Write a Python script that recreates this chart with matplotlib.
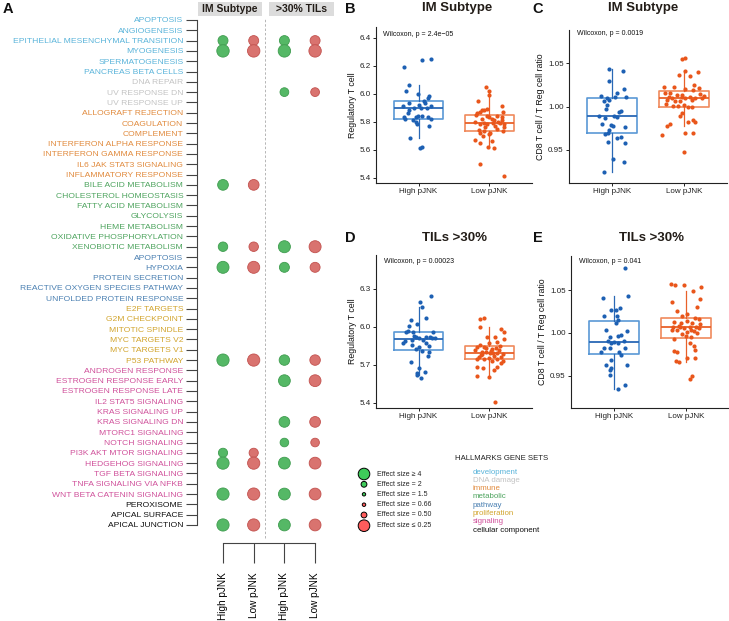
"""
Hallmark gene-set dot matrix (A) + Treg / CD8:Treg boxplots by pJNK (B-E).
"""
import numpy as np
import matplotlib.pyplot as plt
from matplotlib.patches import Rectangle

plt.rcParams['font.family'] = ['Liberation Sans', 'DejaVu Sans']
W, H = 729, 621

# ---------------- panel A data ----------------
categories = ["development", "DNA damage", "immune", "metabolic",
              "pathway", "proliferation", "signaling", "cellular component"]
category_colors = ["#5ab4da", "#c3c3c3", "#e18b3e", "#4ea45f",
                   "#4b80b2", "#d2a52e", "#d0519b", "#111111"]
gene_sets = [
    "APOPTOSIS", "ANGIOGENESIS", "EPITHELIAL MESENCHYMAL TRANSITION", "MYOGENESIS",
    "SPERMATOGENESIS", "PANCREAS BETA CELLS",
    "DNA REPAIR", "UV RESPONSE DN", "UV RESPONSE UP",
    "ALLOGRAFT REJECTION", "COAGULATION", "COMPLEMENT", "INTERFERON ALPHA RESPONSE",
    "INTERFERON GAMMA RESPONSE", "IL6 JAK STAT3 SIGNALING", "INFLAMMATORY RESPONSE",
    "BILE ACID METABOLISM", "CHOLESTEROL HOMEOSTASIS", "FATTY ACID METABOLISM",
    "GLYCOLYSIS", "HEME METABOLISM", "OXIDATIVE PHOSPHORYLATION", "XENOBIOTIC METABOLISM",
    "APOPTOSIS", "HYPOXIA", "PROTEIN SECRETION", "REACTIVE OXYGEN SPECIES PATHWAY",
    "UNFOLDED PROTEIN RESPONSE",
    "E2F TARGETS", "G2M CHECKPOINT", "MITOTIC SPINDLE", "MYC TARGETS V2", "MYC TARGETS V1",
    "P53 PATHWAY",
    "ANDROGEN RESPONSE", "ESTROGEN RESPONSE EARLY", "ESTROGEN RESPONSE LATE",
    "IL2 STAT5 SIGNALING", "KRAS SIGNALING UP", "KRAS SIGNALING DN", "MTORC1 SIGNALING",
    "NOTCH SIGNALING", "PI3K AKT MTOR SIGNALING", "HEDGEHOG SIGNALING", "TGF BETA SIGNALING",
    "TNFA SIGNALING VIA NFKB", "WNT BETA CATENIN SIGNALING",
    "PEROXISOME", "APICAL SURFACE", "APICAL JUNCTION",
]
gene_set_category = [0] * 6 + [1] * 3 + [2] * 7 + [3] * 7 + [4] * 5 + [5] * 6 + [6] * 13 + [7] * 3

n = np.nan
# effect size of High pJNK (Low pJNK is the reciprocal); nan = not significant
im_effect = [n, n, 3.3, 4.4, n, n,
             n, n, n,
             n, n, n, n, n, n, n,
             3.6, n, n, n, n, n, 3.1,
             n, 4.2, n, n, n,
             n, n, n, n, n, 4.3,
             n, n, n, n, n, n, n, n, 3.0, 4.3, n, n, 4.3,
             n, n, 4.3]
til_effect = [n, n, 3.3, 4.4, n, n,
              n, 2.85, n,
              n, n, n, n, n, n, n,
              n, n, n, n, n, n, 4.2,
              n, 3.3, n, n, n,
              n, n, n, n, n, 3.5,
              n, 4.1, n, n, n, 3.6, n, 2.8, n, 4.1, n, n, 4.1,
              n, n, 4.1]
column_labels = ["High pJNK", "Low pJNK", "High pJNK", "Low pJNK"]
comparisons = ["IM Subtype", ">30% TILs"]
legend_effects = [4, 2, 1.5, 0.66, 0.50, 0.25]
legend_labels = ["Effect size \u2265 4", "Effect size = 2", "Effect size = 1.5",
                 "Effect size = 0.66", "Effect size = 0.50", "Effect size \u2264 0.25"]

# ---------------- panels B-E data ----------------
b_high = [6.25, 6.24, 6.19, 6.06, 6.02, 6.00, 5.98, 5.97, 5.95, 5.93, 5.93, 5.92, 5.91, 5.91,
          5.90, 5.90, 5.90, 5.88, 5.86, 5.84, 5.84, 5.83, 5.83, 5.83, 5.82, 5.82, 5.81, 5.80,
          5.78, 5.77, 5.68, 5.62, 5.61]
b_high_dx = [0.18, 0.05, -0.20, -0.13, -0.17, -0.01, 0.15, 0.13, 0.08, -0.13, 0.09, 0.01, 0.18,
             -0.22, -0.06, 0.04, 0.12, -0.13, -0.15, -0.01, 0.05, -0.21, -0.04, 0.14, 0.17,
             -0.19, -0.08, -0.04, -0.02, 0.15, -0.12, 0.05, 0.02]
b_low = [6.05, 6.02, 5.99, 5.95, 5.91, 5.89, 5.88, 5.88, 5.87, 5.87, 5.86, 5.85, 5.84, 5.84,
         5.83, 5.83, 5.82, 5.82, 5.81, 5.81, 5.80, 5.80, 5.79, 5.79, 5.79, 5.78, 5.78, 5.78,
         5.77, 5.76, 5.76, 5.75, 5.74, 5.73, 5.73, 5.72, 5.72, 5.71, 5.70, 5.67, 5.66, 5.65,
         5.62, 5.61, 5.50, 5.41]
b_low_dx = [-0.05, 0.00, -0.01, -0.16, 0.18, -0.03, -0.10, -0.07, -0.14, 0.19, -0.17, -0.19,
            -0.03, 0.11, 0.00, 0.18, -0.10, 0.04, 0.18, 0.07, -0.20, 0.12, 0.15, -0.08, 0.05,
            -0.03, 0.20, -0.14, 0.08, 0.20, -0.06, 0.11, -0.15, -0.08, 0.19, -0.13, 0.01,
            -0.01, -0.09, -0.20, 0.04, -0.13, -0.02, 0.07, -0.14, 0.20]

c_high = [1.0427, 1.0408, 1.0296, 1.0204, 1.0154, 1.0115, 1.0096, 1.0077, 1.0104, 1.0058,
          0.9970, 0.9946, 0.9935, 1.0019, 0.9888, 0.9865, 0.9877, 0.9800, 0.9788, 0.9780,
          0.9730, 0.9760, 0.9685, 0.9700, 0.9642, 0.9596, 0.9577, 0.9400, 0.9358, 0.9250,
          0.9650, 0.9890, 1.0120]
c_high_dx = [-0.04, 0.15, -0.04, 0.17, 0.07, 0.04, -0.07, -0.05, 0.19, -0.11, -0.09, 0.12,
             0.10, -0.07, -0.18, -0.10, 0.07, -0.14, -0.01, 0.01, -0.04, 0.18, -0.10, -0.06,
             0.07, -0.06, 0.18, 0.01, 0.16, -0.11, 0.12, 0.02, -0.15]
c_low = [1.0558, 1.0546, 1.0404, 1.0392, 1.0362, 1.0346, 1.0250, 1.0223, 1.0223, 1.0212,
         1.0200, 1.0192, 1.0154, 1.0135, 1.0115, 1.0115, 1.0096, 1.0096, 1.0096, 1.0077,
         1.0077, 1.0069, 1.0058, 1.0031, 1.0019, 1.0008, 1.0002, 1.0000, 0.9995, 0.9930,
         0.9885, 0.9846, 0.9827, 0.9819, 0.9800, 0.9777, 0.9700, 0.9700, 0.9677, 0.9473,
         1.0100, 1.0110, 1.0120, 1.0130, 1.0140, 1.0160]
c_low_dx = [0.01, -0.03, 0.01, 0.19, -0.07, 0.08, 0.14, -0.28, -0.14, 0.21, 0.02, 0.12, -0.19,
            -0.09, -0.02, 0.08, -0.16, 0.02, 0.16, -0.23, 0.11, -0.12, -0.05, -0.25, 0.00,
            -0.15, -0.08, 0.06, 0.11, -0.02, -0.05, 0.12, 0.16, 0.05, -0.20, -0.23, 0.01,
            0.12, -0.31, 0.00, 0.25, -0.21, 0.28, -0.02, 0.23, -0.26]

d_high = [6.241, 6.194, 6.155, 6.071, 6.052, 6.021, 6.005, 5.966, 5.960, 5.927, 5.916, 5.921,
          5.913, 5.908, 5.895, 5.890, 5.895, 5.869, 5.869, 5.856, 5.843, 5.850, 5.822, 5.811,
          5.800, 5.769, 5.724, 5.675, 5.633, 5.617, 5.646, 5.598, 5.955, 5.920, 5.910, 5.960]
d_high_dx = [0.17, 0.02, 0.05, 0.11, -0.10, -0.02, -0.13, -0.15, -0.18, -0.06, 0.11, 0.16,
             0.23, 0.00, 0.06, -0.19, -0.09, -0.22, 0.10, -0.09, 0.00, 0.15, -0.03, 0.05,
             0.15, 0.13, -0.10, 0.00, -0.02, -0.02, 0.09, 0.04, 0.20, -0.04, 0.19, -0.08]
d_low = [6.070, 6.058, 6.000, 5.984, 5.958, 5.921, 5.916, 5.906, 5.882, 5.869, 5.856, 5.848,
         5.843, 5.822, 5.816, 5.803, 5.785, 5.790, 5.790, 5.785, 5.769, 5.759, 5.756, 5.750,
         5.743, 5.732, 5.732, 5.717, 5.685, 5.680, 5.672, 5.659, 5.614, 5.606, 5.404, 5.800,
         5.810, 5.820, 5.830, 5.835, 5.840, 5.790, 5.775, 5.745, 5.765]
d_low_dx = [-0.08, -0.14, -0.13, 0.16, 0.20, 0.08, -0.03, 0.21, 0.10, -0.01, -0.14, 0.15,
            -0.08, 0.04, -0.20, -0.05, 0.19, 0.01, 0.11, -0.10, 0.07, 0.16, -0.01, -0.17,
            -0.08, 0.04, 0.19, 0.16, -0.17, 0.11, -0.09, 0.07, -0.17, -0.01, 0.08, -0.11,
            0.02, 0.13, -0.05, 0.09, -0.17, 0.05, -0.12, 0.10, -0.15]

e_high = [1.0755, 1.0428, 1.0409, 1.0261, 1.0292, 1.0268, 1.0202, 1.0195, 1.0152, 1.0113,
          1.0035, 1.0019, 0.9957, 0.9969, 0.9977, 0.9910, 0.9890, 0.9883, 0.9880, 0.9900,
          0.9825, 0.9825, 0.9820, 0.9782, 0.9774, 0.9743, 0.9685, 0.9630, 0.9626, 0.9591,
          0.9568, 0.9510, 0.9393, 0.9346]
e_high_dx = [0.15, 0.19, -0.15, -0.05, 0.08, 0.02, -0.14, 0.04, 0.06, 0.02, -0.11, 0.18,
             -0.06, 0.06, 0.09, -0.09, 0.00, 0.06, -0.05, 0.14, -0.14, 0.15, -0.06, -0.18,
             0.07, 0.10, -0.05, -0.11, 0.18, -0.05, -0.06, -0.06, 0.15, 0.06]
e_low = [1.0572, 1.0560, 1.0553, 1.0533, 1.0494, 1.0393, 1.0358, 1.0300, 1.0253, 1.0222,
         1.0191, 1.0175, 1.0167, 1.0125, 1.0136, 1.0113, 1.0074, 1.0066, 1.0051, 1.0066,
         1.0035, 1.0035, 1.0035, 1.0008, 0.9988, 0.9965, 0.9996, 0.9930, 0.9957, 0.9880,
         0.9852, 0.9802, 0.9794, 0.9774, 0.9704, 0.9704, 0.9677, 0.9658, 0.9463, 0.9494,
         1.0060, 1.0085, 1.0020, 1.0070, 1.0100, 1.0120]
e_low_dx = [-0.21, -0.15, -0.03, 0.21, 0.10, 0.20, -0.19, 0.16, -0.13, 0.02, -0.05, 0.12,
            0.18, -0.17, 0.02, 0.09, -0.08, 0.05, -0.02, 0.14, -0.19, -0.13, 0.07, 0.02,
            -0.05, 0.00, 0.16, -0.16, 0.07, 0.06, 0.11, 0.13, -0.16, -0.12, 0.02, 0.12,
            -0.14, -0.10, 0.05, 0.09, 0.18, -0.10, 0.11, -0.18, 0.20, -0.07]

groups = ["High pJNK", "Low pJNK"]
wilcoxon_p = ["2.4e\u221205", "0.0019", "0.00023", "0.041"]

# ---------------- helpers ----------------
def px_axes(fig, x0, y0, x1, y1, **kw):
    return fig.add_axes([x0 / W, 1 - y1 / H, (x1 - x0) / W, (y1 - y0) / H], **kw)


def dot_size(es):
    diam_px = 5.8 * np.abs(np.log2(es))
    return (diam_px * 0.72) ** 2


GREEN, GREEN_EDGE = "#55b866", "#3f9c4f"
RED, RED_EDGE = "#d9736f", "#c2514e"
BLUE_PT, BLUE_BOX, BLUE_MED = "#1d60b3", "#5a98d6", "#2a68b5"
ORNG_PT, ORNG_BOX, ORNG_MED = "#e9561b", "#f08a5c", "#e8612a"
TITLE_C = "#231d18"

fig = plt.figure(figsize=(W / 100, H / 100), dpi=100)

# overlay in pixel coordinates, for legends / panel letters
ov = fig.add_axes([0, 0, 1, 1])
ov.set_xlim(0, W); ov.set_ylim(H, 0); ov.axis("off")

# ---------------- panel A ----------------
axA = px_axes(fig, 197, 17, 334, 543)
rows = np.arange(len(gene_sets))
col_x = np.array([1, 2, 3, 4])
for k, eff in enumerate([im_effect, til_effect]):
    es = np.array(eff)
    m = ~np.isnan(es)
    axA.scatter(np.full(m.sum(), col_x[2 * k]), rows[m], s=dot_size(es[m]),
                color=GREEN, edgecolors=GREEN_EDGE, linewidths=0.6, zorder=3)
    axA.scatter(np.full(m.sum(), col_x[2 * k + 1]), rows[m], s=dot_size(1 / es[m]),
                color=RED, edgecolors=RED_EDGE, linewidths=0.6, zorder=3)
axA.set_xlim(0.153, 4.616)
axA.set_ylim(50.75, -0.29)
axA.axvline(2.37, ymin=0.01, ymax=0.996, color="#b5b5b5", lw=0.7, ls=(0, (2.5, 2)))
axA.set_yticks(rows)
axA.set_yticklabels(gene_sets, fontsize=6.1)
for lab, cat in zip(axA.get_yticklabels(), gene_set_category):
    lab.set_color(category_colors[cat])
axA.set_xticks(col_x)
axA.set_xticklabels(column_labels, rotation=90, fontsize=7.2)
axA.tick_params(axis="y", length=7.9, width=0.8, color="#444444", pad=2)
axA.tick_params(axis="x", length=14.4, width=0.8, color="#444444", pad=6.5)
for s in ["top", "right"]:
    axA.spines[s].set_visible(False)
axA.spines["left"].set_bounds(0, len(gene_sets) - 1)
axA.spines["bottom"].set_bounds(col_x[0], col_x[-1])
for s in ["left", "bottom"]:
    axA.spines[s].set_color("#444444")
    axA.spines[s].set_linewidth(0.8)
axA.patch.set_alpha(0)

# facet strips
for (x0, x1), lab in zip([(198, 262), (269, 334)], comparisons):
    ov.add_patch(Rectangle((x0, 2), x1 - x0, 14, color="#dcdcdc", lw=0))
    ov.text((x0 + x1) / 2, 9.5, lab, ha="center", va="center", fontsize=7.5,
            fontweight="bold", color=TITLE_C)

# size legend
leg_y = [474, 484.3, 494.3, 504.7, 515, 525.7]
leg_col = ["#3ecb5a"] * 3 + ["#ff5c5c"] * 3
ov.scatter([364] * 6, leg_y, s=dot_size(np.array(legend_effects)), color=leg_col,
           edgecolors="black", linewidths=0.7, zorder=3)
for y, t in zip(leg_y, legend_labels):
    ov.text(377, y, t, fontsize=5, va="center", ha="left", color="#222222")

# category legend
ov.text(455, 459, "HALLMARKS GENE SETS", fontsize=5.6, va="center", ha="left", color="#222222")
for i, (c, col) in enumerate(zip(categories, category_colors)):
    ov.text(473, 472 + i * 8.3, c, fontsize=5.7, va="center", ha="left", color=col)

# ---------------- panels B-E ----------------
def box_panel(ax, high, high_dx, low, low_dx, ylim, yticks, ylab, ptxt, txt_xy):
    bp = ax.boxplot([high, low], positions=[1, 2], widths=0.7, showfliers=False,
                    showcaps=False, whis=1.5)
    for i, (bc, mc) in enumerate([(BLUE_BOX, BLUE_MED), (ORNG_BOX, ORNG_MED)]):
        bp["boxes"][i].set(color=bc, lw=1.2)
        bp["whiskers"][2 * i].set(color=mc, lw=0.9)
        bp["whiskers"][2 * i + 1].set(color=mc, lw=0.9)
        bp["medians"][i].set(color=mc, lw=1.3)
    ax.scatter(1 + np.array(high_dx), high, s=9, color=BLUE_PT, lw=0, zorder=4)
    ax.scatter(2 + np.array(low_dx), low, s=9, color=ORNG_PT, lw=0, zorder=4)
    ax.set_xlim(0.4, 2.6)
    ax.set_ylim(*ylim)
    ax.set_yticks(yticks)
    ax.set_yticklabels([f"{v:.2f}" if v < 2 else f"{v:.1f}" for v in yticks])
    ax.set_xticks([1, 2])
    ax.set_xticklabels(groups)
    ax.tick_params(labelsize=5.8, length=2.2, width=0.7, pad=1.5, colors="#222222")
    ax.set_ylabel(ylab, fontsize=6.3, labelpad=2, color="#111111")
    for s in ["top", "right"]:
        ax.spines[s].set_visible(False)
    for s in ["left", "bottom"]:
        ax.spines[s].set_linewidth(0.8)
        ax.spines[s].set_color("#222222")
    ax.text(txt_xy[0], txt_xy[1], f"Wilcoxon, p = {ptxt}", transform=ax.transAxes,
            fontsize=5, ha="left", va="center", color="#111111")


axB = px_axes(fig, 376, 27, 532, 183)
box_panel(axB, b_high, b_high_dx, b_low, b_low_dx, (5.362, 6.476),
          [5.4, 5.6, 5.8, 6.0, 6.2, 6.4], "Regulatory T cell", wilcoxon_p[0], (0.045, 0.955))
axC = px_axes(fig, 569, 30, 727, 183)
box_panel(axC, c_high, c_high_dx, c_low, c_low_dx, (0.912, 1.088),
          [0.95, 1.00, 1.05], "CD8 T cell / T Reg cell ratio", wilcoxon_p[1], (0.05, 0.974))
axD = px_axes(fig, 376, 255, 532, 408)
box_panel(axD, d_high, d_high_dx, d_low, d_low_dx, (5.3606, 6.565),
          [5.4, 5.7, 6.0, 6.3], "Regulatory T cell", wilcoxon_p[2], (0.05, 0.96))
axE = px_axes(fig, 571, 256, 729, 408)
box_panel(axE, e_high, e_high_dx, e_low, e_low_dx, (0.9123, 1.0897),
          [0.95, 1.00, 1.05], "CD8 T cell / T Reg cell ratio", wilcoxon_p[3], (0.05, 0.967))

# titles and panel letters
for x, y, t in [(457, 8, "IM Subtype"), (643, 8, "IM Subtype"),
                (455, 238, "TILs >30%"), (652, 238, "TILs >30%")]:
    ov.text(x, y, t, ha="center", va="center", fontsize=9.5, fontweight="bold", color=TITLE_C)
for x, y, t in [(8, 9, "A"), (350, 9, "B"), (538, 9, "C"), (350, 238, "D"), (538, 238, "E")]:
    ov.text(x, y, t, ha="center", va="center", fontsize=10.5, fontweight="bold", color="#111111")

fig.savefig("out.png", dpi=100)
